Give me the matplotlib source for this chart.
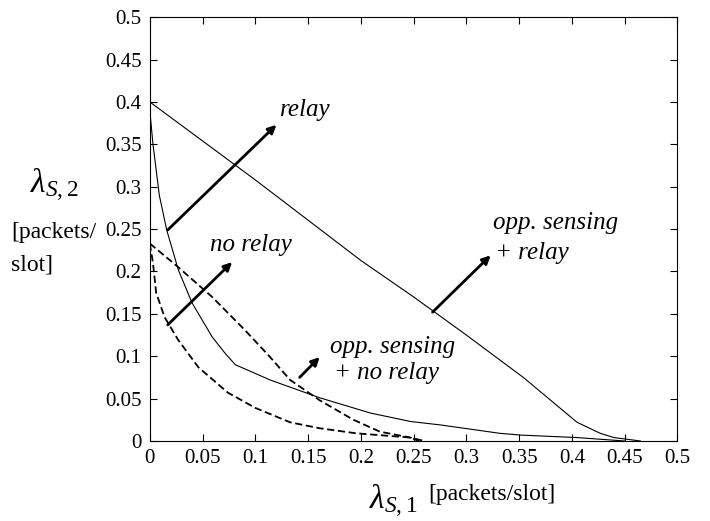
import matplotlib
matplotlib.use('Agg')
import matplotlib.pyplot as plt

matplotlib.rcParams['font.family'] = ['Liberation Serif', 'DejaVu Serif']
matplotlib.rcParams['mathtext.fontset'] = 'custom'
matplotlib.rcParams['mathtext.rm'] = 'Liberation Serif'
matplotlib.rcParams['mathtext.it'] = 'Liberation Serif:italic'

# opp. sensing + relay (solid, outer)
osr_x = [0, 0.1, 0.2, 0.25, 0.3, 0.354, 0.405, 0.427, 0.44, 0.465]
osr_y = [0.40, 0.308, 0.213, 0.17, 0.125, 0.075, 0.022, 0.009, 0.004, 0.0]

# relay (solid, inner)
r_x = [0, 0.003, 0.009, 0.016, 0.027, 0.04, 0.059, 0.071, 0.081, 0.114, 0.161, 0.209,
       0.247, 0.275, 0.332, 0.351, 0.405, 0.45]
r_y = [0.39, 0.35, 0.29, 0.249, 0.202, 0.163, 0.123, 0.104, 0.09, 0.072, 0.051, 0.033,
       0.023, 0.019, 0.009, 0.007, 0.004, 0.0]

# opp. sensing + no relay (dashed, outer)
osn_x = [0, 0.027, 0.059, 0.09, 0.114, 0.133, 0.161, 0.193, 0.218, 0.247, 0.26]
osn_y = [0.233, 0.205, 0.17, 0.131, 0.099, 0.072, 0.048, 0.025, 0.011, 0.004, 0.0]

# no relay (dashed, inner)
nr_x = [0, 0.003, 0.006, 0.014, 0.027, 0.046, 0.074, 0.1, 0.133, 0.161, 0.196, 0.247, 0.255]
nr_y = [0.233, 0.21, 0.175, 0.146, 0.119, 0.087, 0.057, 0.039, 0.022, 0.015, 0.009, 0.004, 0.0]

ticks = [0, 0.05, 0.1, 0.15, 0.2, 0.25, 0.3, 0.35, 0.4, 0.45, 0.5]
tick_labels = ['0', '0.05', '0.1', '0.15', '0.2', '0.25', '0.3', '0.35', '0.4', '0.45', '0.5']

fig = plt.figure(figsize=(7.1, 5.21), dpi=100)
ax = fig.add_axes([0.211, 0.1536, 0.743, 0.8134])

ax.plot(osr_x, osr_y, 'k-', lw=0.8)
ax.plot(r_x, r_y, 'k-', lw=0.8)
ax.plot(osn_x, osn_y, 'k--', lw=1.3, dashes=(4, 2))
ax.plot(nr_x, nr_y, 'k--', lw=1.3, dashes=(4, 2))

ax.set_xlim(0, 0.5)
ax.set_ylim(0, 0.5)
ax.set_xticks(ticks)
ax.set_xticklabels(tick_labels)
ax.set_yticks(ticks)
ax.set_yticklabels(tick_labels)
ax.tick_params(direction='in', top=True, right=True, labelsize=15, length=5, pad=6)

arrow = dict(arrowstyle='-|>', color='k', lw=2, mutation_scale=12, shrinkA=0, shrinkB=0)
ax.annotate('', xy=(0.120, 0.373), xytext=(0.017, 0.249), arrowprops=arrow)
ax.annotate('', xy=(0.078, 0.211), xytext=(0.017, 0.137), arrowprops=arrow)
ax.annotate('', xy=(0.161, 0.099), xytext=(0.142, 0.075), arrowprops=arrow)
ax.annotate('', xy=(0.323, 0.219), xytext=(0.268, 0.152), arrowprops=arrow)

lab = dict(fontsize=18, style='italic', va='center', ha='left')
ax.text(0.123, 0.39, 'relay', **lab)
ax.text(0.057, 0.231, 'no relay', **lab)
ax.text(0.171, 0.111, 'opp. sensing', **lab)
ax.text(0.175, 0.080, '+ no relay', **lab)
ax.text(0.325, 0.257, 'opp. sensing', **lab)
ax.text(0.327, 0.222, '+ relay', **lab)

fig.text(0.077, 0.645, r'$\lambda_{S,2}$', fontsize=24, ha='center', va='center')
fig.text(0.016, 0.553, '[packets/', fontsize=17, ha='left', va='center')
fig.text(0.016, 0.491, 'slot]', fontsize=17, ha='left', va='center')
fig.text(0.554, 0.038, r'$\lambda_{S,1}$', fontsize=24, ha='center', va='center')
fig.text(0.603, 0.050, '[packets/slot]', fontsize=17, ha='left', va='center')

fig.savefig('out.png', dpi=100)
